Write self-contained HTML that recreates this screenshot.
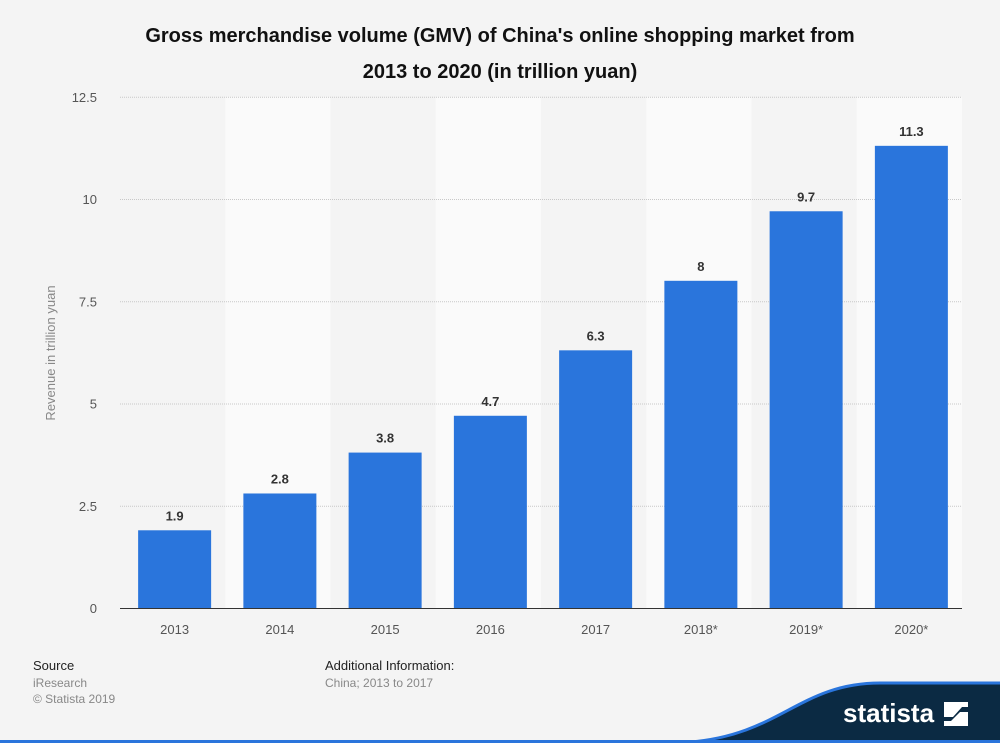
<!DOCTYPE html>
<html><head><meta charset="utf-8"><style>
body{margin:0;background:#f4f4f4;font-family:"Liberation Sans",Arial,sans-serif;}
svg{display:block}
</style></head><body>
<svg width="1000" height="743" viewBox="0 0 1000 743">
<rect width="1000" height="743" fill="#f4f4f4"/>
<text x="500" y="42" text-anchor="middle" font-size="20" font-weight="bold" fill="#111">Gross merchandise volume (GMV) of China's online shopping market from</text>
<text x="500" y="78" text-anchor="middle" font-size="20" font-weight="bold" fill="#111">2013 to 2020 (in trillion yuan)</text>
<g id="stripes"></g>
<g id="grid"></g>
<g id="bars"></g>
<line x1="120" y1="608.5" x2="962" y2="608.5" stroke="#333" stroke-width="1"/>
<text transform="translate(55,353) rotate(-90)" text-anchor="middle" font-size="13" fill="#888">Revenue in trillion yuan</text>
<text x="33" y="670" font-size="13" fill="#222">Source</text>
<text x="33" y="687" font-size="12" fill="#888">iResearch</text>
<text x="33" y="703" font-size="12" fill="#888">© Statista 2019</text>
<text x="325" y="670" font-size="13" fill="#222">Additional Information:</text>
<text x="325" y="687" font-size="12" fill="#888">China; 2013 to 2017</text>
<path d="M690,743 C780,735 800,683 880,683 L1000,683 L1000,743 Z" fill="#0b2a43"/>
<path d="M690,742 C780,735 800,683 880,683 L1000,683" fill="none" stroke="#2a75dc" stroke-width="3"/>
<rect x="0" y="740" width="1000" height="3" fill="#2a75dc"/>
<text x="843" y="722" font-size="26" font-weight="bold" fill="#fff">statista</text>
<g fill="#fff">
<polygon points="944,726 968,726 968,712 960,712 951,721 944,721"/>
<polygon points="944,702 968,702 968,707 962,707 953,717 944,717"/>
</g>
</svg>
<script>
const categories=["2013","2014","2015","2016","2017","2018*","2019*","2020*"];
const values=[1.9,2.8,3.8,4.7,6.3,8,9.7,11.3];
const valueLabels=["1.9","2.8","3.8","4.7","6.3","8","9.7","11.3"];
const ticks=[0,2.5,5,7.5,10,12.5];
const tickLabels=["0","2.5","5","7.5","10","12.5"];
const NS="http://www.w3.org/2000/svg";
const x0=120,bw=105.25,y0=608,ppu=40.9;
const y=v=>y0-v*ppu;
function mk(t,a,p){const e=document.createElementNS(NS,t);for(const k in a)e.setAttribute(k,a[k]);p.appendChild(e);return e;}
const st=document.getElementById('stripes'),gr=document.getElementById('grid'),bs=document.getElementById('bars');
categories.forEach((c,i)=>{
 if(i%2==1){const r=mk('rect',{x:x0+i*bw,y:y(12.5),width:bw,height:12.5*ppu,fill:'#fafafa'},st);
 
 }
});
ticks.forEach((t,i)=>{
 if(t>0){const l=mk('line',{x1:x0,x2:962,y1:y(t)+0.5,y2:y(t)+0.5,stroke:'#c8c8c8','stroke-dasharray':'1,1'},gr);
 
 }
 const tx=mk('text',{x:97,y:y(t)+5,'text-anchor':'end','font-size':13,fill:'#555'},gr);
 tx.textContent=tickLabels[i];
 
 
});
categories.forEach((c,i)=>{
 const cx=x0+i*bw+bw/2+2;
 const b=mk('rect',{x:cx-36.5,y:y(values[i]),width:73,height:values[i]*ppu,fill:'#2a75dc'},bs);
 
 
 const v=mk('text',{x:cx,y:y(values[i])-10,'text-anchor':'middle','font-size':13,'font-weight':'bold',fill:'#333'},bs);
 v.textContent=valueLabels[i];
 
 
 const xl=mk('text',{x:cx,y:634,'text-anchor':'middle','font-size':13,fill:'#555'},bs);
 xl.textContent=c;
 
 
});
</script>
</body></html>
